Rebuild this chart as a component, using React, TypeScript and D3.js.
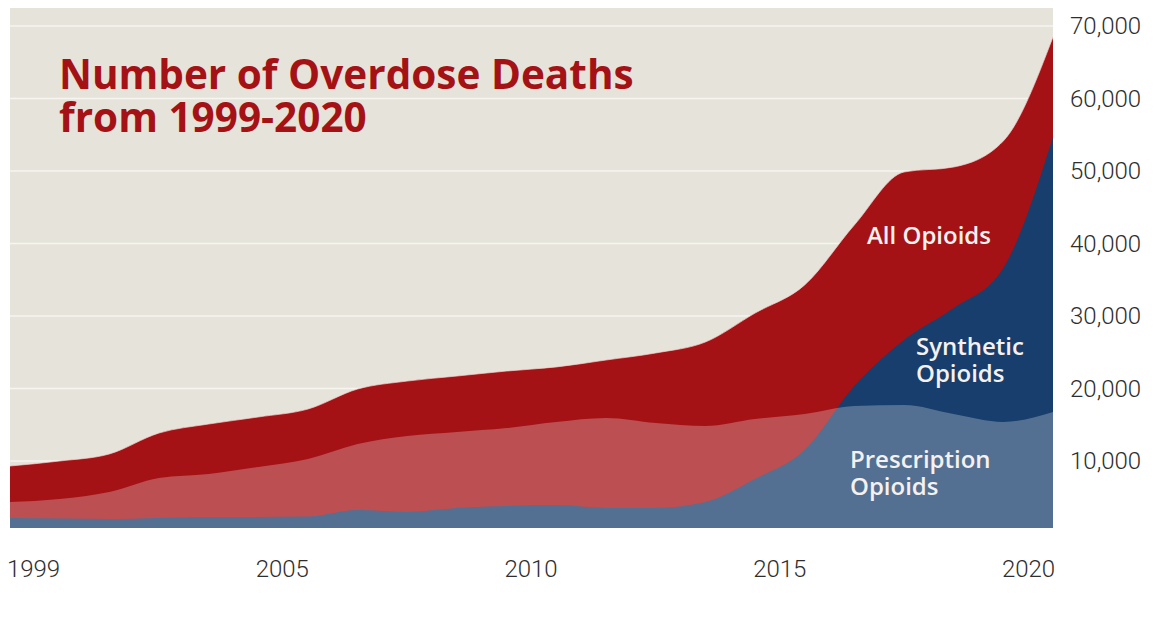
import React from "react";
import * as d3 from "d3";

const years = [1999, 2000, 2001, 2002, 2003, 2004, 2005, 2006, 2007, 2008, 2009, 2010, 2011, 2012, 2013, 2014, 2015, 2016, 2017, 2018, 2019, 2020];
const allOpioids = [9310, 10000, 10970, 13860, 15100, 16070, 17170, 19930, 21030, 21720, 22410, 22970, 23930, 24900, 26410, 30400, 34280, 42550, 49860, 50550, 54140, 68480];
const prescription = [4340, 4760, 5720, 7660, 8210, 9170, 10280, 12340, 13450, 14000, 14550, 15380, 15930, 15240, 14830, 15790, 16480, 17590, 17720, 16480, 15380, 16760];
const synthetic = [2140, 2070, 2000, 2140, 2280, 2280, 2340, 3240, 2970, 3520, 3790, 3930, 3520, 3520, 4340, 7520, 11520, 20340, 26690, 31100, 36620, 54680];
const yTicks = [10000, 20000, 30000, 40000, 50000, 60000, 70000];
const xTickLabels = ["1999", "2005", "2010", "2015", "2020"];
const titleLines = ["Number of Overdose Deaths", "from 1999-2020"];

const W = 1176;
const H = 642;
const plot = { left: 10, right: 1053, top: 8, bottom: 528 };

export default function App() {
  const x = d3.scaleLinear().domain([1999, 2020]).range([plot.left, plot.right]);
  const y = d3.scaleLinear().domain([0, 70000]).range([533.5, 26]);
  const xLab = d3.scalePoint<string>().domain(xTickLabels).range([33.5, 1028.5]);

  const area = (vals: number[]) =>
    d3
      .area<number>()
      .x((_, i) => x(years[i]))
      .y0(y(0))
      .y1((d) => y(d))
      .curve(d3.curveMonotoneX)(vals) as string;
  const line = (vals: number[]) =>
    d3
      .line<number>()
      .x((_, i) => x(years[i]))
      .y((d) => y(d))
      .curve(d3.curveMonotoneX)(vals) as string;

  const labelFont = "'Open Sans', Lato, sans-serif";
  const axisFont = "Roboto, 'Open Sans', sans-serif";
  const labelColor = "#f6f1ee";

  return (
    <svg width={W} height={H} style={{ position: "absolute", left: 0, top: 0, background: "#ffffff" }}>
      <defs>
        <clipPath id="plotClip">
          <rect x={plot.left} y={plot.top} width={plot.right - plot.left} height={plot.bottom - plot.top} />
        </clipPath>
      </defs>
      <rect x={plot.left} y={plot.top} width={plot.right - plot.left} height={plot.bottom - plot.top} fill="#e6e4da" />
      <g clipPath="url(#plotClip)">
        {yTicks.map((t) => (
          <line key={t} x1={plot.left} x2={plot.right} y1={y(t)} y2={y(t)} stroke="#f6f5ef" strokeWidth={1.5} />
        ))}
        <path d={area(allOpioids)} fill="#a51216" />
        <path d={line(allOpioids)} fill="none" stroke="#f2d2cc" strokeWidth={1} opacity={0.7} />
        <path d={area(synthetic)} fill="#173e6c" />
        <path d={area(prescription)} fill="#ffffff" fillOpacity={0.26} />
      </g>

      <text fill="#a51216" fontFamily={labelFont} fontWeight={700} fontSize={40.5}>
        {titleLines.map((t, i) => (
          <tspan key={t} x={59} y={89 + i * 43}>
            {t}
          </tspan>
        ))}
      </text>

      <text x={867} y={244} fill={labelColor} fontFamily={labelFont} fontWeight={600} fontSize={24}>
        All Opioids
      </text>
      <text fill={labelColor} fontFamily={labelFont} fontWeight={600} fontSize={24}>
        <tspan x={916} y={355}>Synthetic</tspan>
        <tspan x={916} y={382}>Opioids</tspan>
      </text>
      <text fill={labelColor} fontFamily={labelFont} fontWeight={600} fontSize={24}>
        <tspan x={850} y={468}>Prescription</tspan>
        <tspan x={850} y={495}>Opioids</tspan>
      </text>

      {yTicks.map((t) => (
        <text key={t} x={1070} y={y(t)} dy="0.35em" fill="#2e2e2e" fontFamily={axisFont} fontWeight={300} fontSize={24}>
          {d3.format(",")(t)}
        </text>
      ))}
      {xTickLabels.map((t) => (
        <text key={t} x={xLab(t)} y={577} textAnchor="middle" fill="#2e2e2e" fontFamily={axisFont} fontWeight={300} fontSize={24}>
          {t}
        </text>
      ))}
    </svg>
  );
}
